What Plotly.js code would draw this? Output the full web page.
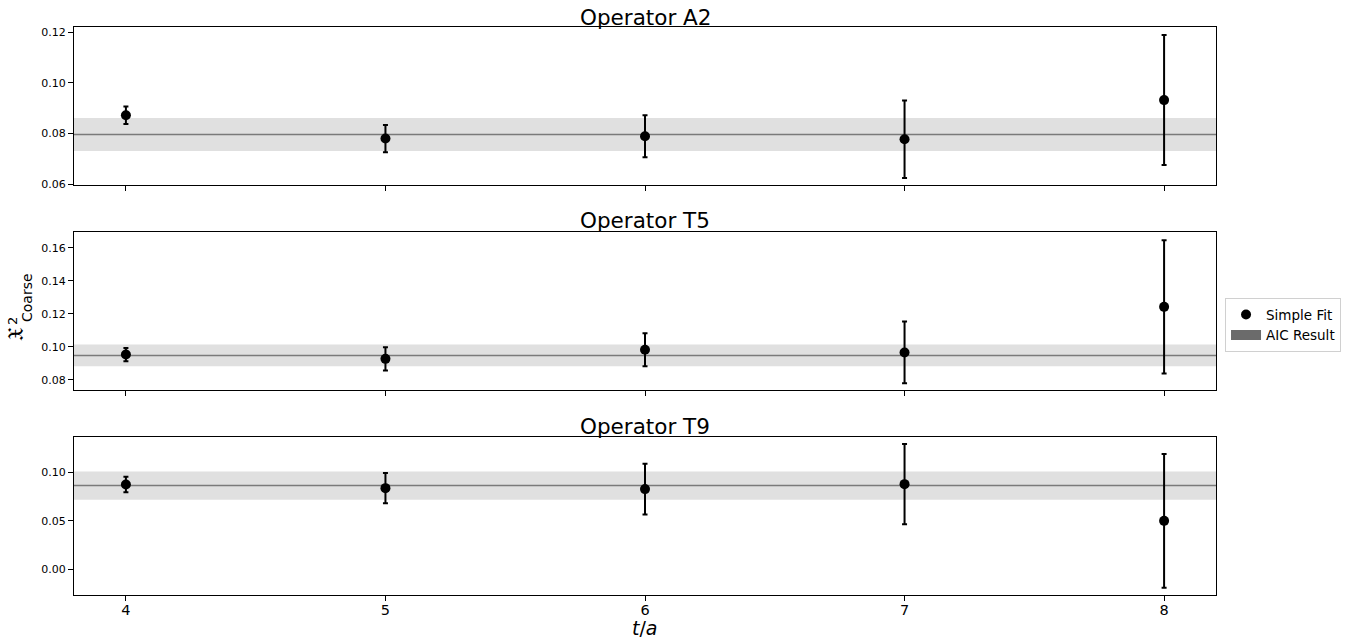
<!DOCTYPE html>
<html>
<head>
<meta charset="utf-8">
<script src="https://cdn.plot.ly/plotly-3.0.1.min.js"></script>
<style>html,body{margin:0;padding:0;background:#fff;}#chart{width:1363px;height:639px;}</style>
</head>
<body>
<div id="chart"></div>
<script>
const tVals = [4, 5, 6, 7, 8];
const operatorNames = ["Operator A2", "Operator T5", "Operator T9"];
const a2Val = [0.0872, 0.0780, 0.0789, 0.0777, 0.0932];
const a2Err = [0.0035, 0.0054, 0.0083, 0.0153, 0.0257];
const t5Val = [0.0953, 0.0927, 0.0982, 0.0966, 0.1242];
const t5Err = [0.0040, 0.0070, 0.0100, 0.0187, 0.0403];
const t9Val = [0.0873, 0.0836, 0.0826, 0.0877, 0.0500];
const t9Err = [0.0080, 0.0155, 0.0260, 0.0411, 0.0687];
const aicCentral = [0.0796, 0.0948, 0.0862];
const aicErr = [0.0065, 0.0066, 0.0146];
const yTicks = [[0.06, 0.08, 0.10, 0.12], [0.08, 0.10, 0.12, 0.14, 0.16], [0.00, 0.05, 0.10]];
const yRanges = [[0.0596, 0.1221], [0.0739, 0.1693], [-0.0261, 0.1356]];

const vals = [a2Val, t5Val, t9Val];
const errs = [a2Err, t5Err, t9Err];
const yNames = ['y', 'y2', 'y3'];
const FONT = 'DejaVu Sans, sans-serif';

const traces = [];
vals.forEach((v, i) => {
  traces.push({
    x: tVals, y: v, xaxis: 'x', yaxis: yNames[i],
    type: 'scatter', mode: 'markers',
    marker: {color: '#000', size: 10},
    error_y: {type: 'data', array: errs[i], visible: true, color: '#000', thickness: 2, width: 2.5},
    name: 'Simple Fit', showlegend: i === 0, cliponaxis: false
  });
});
// legend-only entry for AIC result
traces.push({
  x: [null, null], y: [null, null], type: 'scatter', mode: 'lines',
  line: {color: '#6b6b6b', width: 10}, name: 'AIC Result', showlegend: true,
  xaxis: 'x', yaxis: 'y'
});

const shapes = [];
aicCentral.forEach((c, i) => {
  shapes.push({type: 'rect', xref: 'paper', yref: yNames[i], x0: 0, x1: 1,
    y0: c - aicErr[i], y1: c + aicErr[i], fillcolor: '#e0e0e0', line: {width: 0}, layer: 'below'});
  shapes.push({type: 'line', xref: 'paper', yref: yNames[i], x0: 0, x1: 1,
    y0: c, y1: c, line: {color: '#7a7a7a', width: 1.5}, layer: 'below'});
});

const domains = [[0.7217, 1.0], [0.3611, 0.6384], [0.0, 0.2773]];
const titleY = [1.0175, 0.6585, 0.2975];

const axisBase = {
  showline: true, linecolor: '#000', linewidth: 1, mirror: true,
  ticks: 'outside', ticklen: 5, tickwidth: 1, tickcolor: '#000',
  showgrid: false, zeroline: false,
  tickfont: {family: FONT, size: 11, color: '#000'}
};

const layout = {
  width: 1363, height: 639,
  margin: {l: 74, r: 147, t: 27, b: 44},
  paper_bgcolor: '#fff', plot_bgcolor: '#fff',
  showlegend: true,
  legend: {x: 1.0079, y: 0.475, xanchor: 'left', yanchor: 'middle',
    font: {family: FONT, size: 13.5, color: '#000'}, tracegroupgap: 0,
    bgcolor: '#fff', bordercolor: '#d0d0d0', borderwidth: 1},
  shapes: shapes,
  annotations: [],
  xaxis: Object.assign({}, axisBase, {
    range: [3.8, 8.2], tickvals: tVals, ticktext: tVals.map(String),
    anchor: 'y3', tickfont: {family: FONT, size: 14.5, color: '#000'},
    ticklabelstandoff: -3
  }),
  xaxis2: Object.assign({}, axisBase, {range: [3.8, 8.2], tickvals: tVals, showticklabels: false, anchor: 'y', overlaying: 'x'}),
  xaxis3: Object.assign({}, axisBase, {range: [3.8, 8.2], tickvals: tVals, showticklabels: false, anchor: 'y2', overlaying: 'x'})
};
yNames.forEach((yn, i) => {
  const key = i === 0 ? 'yaxis' : 'yaxis' + (i + 1);
  layout[key] = Object.assign({}, axisBase, {
    domain: domains[i], range: yRanges[i], tickvals: yTicks[i],
    tickformat: '.2f', anchor: 'x'
  });
  layout.annotations.push({
    text: operatorNames[i], xref: 'paper', yref: 'paper', x: 0.5, y: titleY[i],
    xanchor: 'center', yanchor: 'middle', showarrow: false,
    font: {family: FONT, size: 21.5, color: '#000'}
  });
});
// y-axis label: fraktur X with super 2 and sub Coarse
layout.annotations.push({text: '\u{1D51B}', xref: 'paper', yref: 'paper',
  x: (15 - 74) / 1142, y: (595 - 334) / 568, xanchor: 'center', yanchor: 'middle',
  textangle: -90, showarrow: false, font: {family: FONT, size: 22, color: '#000'}});
layout.annotations.push({text: '2', xref: 'paper', yref: 'paper',
  x: (12 - 74) / 1142, y: (595 - 321) / 568, xanchor: 'center', yanchor: 'middle',
  textangle: -90, showarrow: false, font: {family: FONT, size: 13, color: '#000'}});
layout.annotations.push({text: 'Coarse', xref: 'paper', yref: 'paper',
  x: (27 - 74) / 1142, y: (595 - 298) / 568, xanchor: 'center', yanchor: 'middle',
  textangle: -90, showarrow: false, font: {family: FONT, size: 14, color: '#000'}});
// x-axis label
layout.annotations.push({text: '<i>t</i>/<i>a</i>', xref: 'paper', yref: 'paper',
  x: 0.5, y: (595 - 628) / 568, xanchor: 'center', yanchor: 'middle',
  showarrow: false, font: {family: FONT, size: 19, color: '#000'}});

// The extra x axes overlay to draw ticks under the top two panels
traces.push({x: [null], y: [null], xaxis: 'x2', yaxis: 'y', showlegend: false, hoverinfo: 'skip'});
traces.push({x: [null], y: [null], xaxis: 'x3', yaxis: 'y2', showlegend: false, hoverinfo: 'skip'});

Plotly.newPlot('chart', traces, layout, {displayModeBar: false, staticPlot: true});
</script>
</body>
</html>
